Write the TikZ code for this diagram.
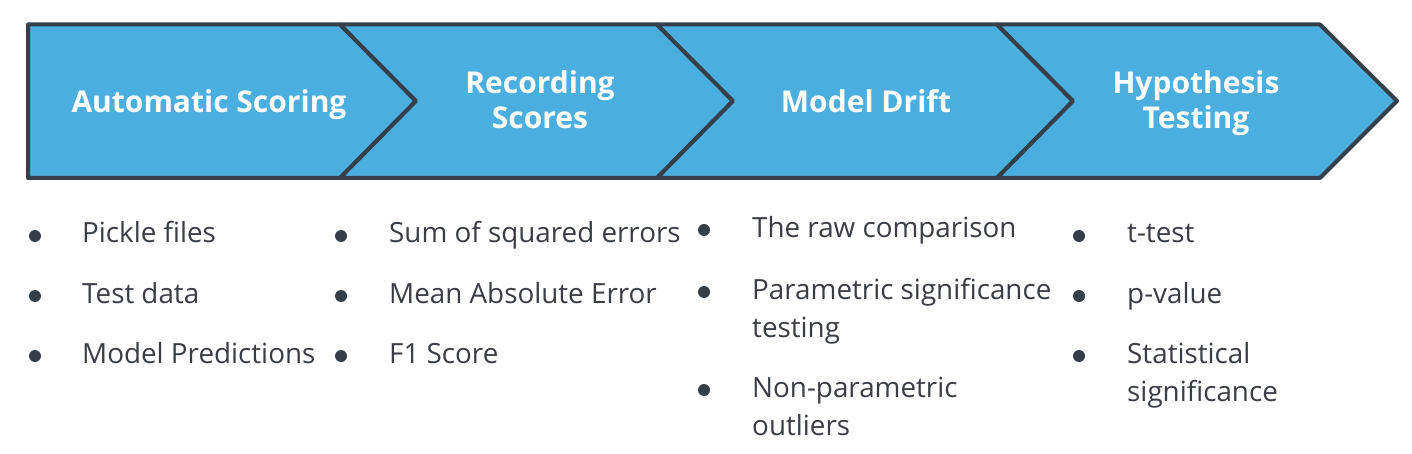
\documentclass[tikz,border=0pt]{standalone}
\usepackage{fontspec}
\setmainfont{Open Sans}
\usetikzlibrary{positioning}
\definecolor{stageblue}{RGB}{74,175,223}
\definecolor{edgegray}{RGB}{54,63,73}
\definecolor{textgray}{RGB}{58,62,68}

\begin{document}
\begin{tikzpicture}[x=1pt,y=-1pt,
    stage/.style={fill=stageblue,draw=edgegray,line width=4pt,line join=round},
    stagetitle/.style={anchor=base,text=white,inner sep=0pt,align=center,
        font=\bfseries\fontsize{30}{35}\selectfont},
    itemtext/.style={anchor=base west,text=textgray,inner sep=0pt,align=left,
        font=\fontsize{27.8}{38}\selectfont}]
    \useasboundingbox (0,0) rectangle (1412,454);
    % Coordinates
    \coordinate (T0) at (28,24.5);
    \coordinate (B0) at (28,178);
    \coordinate (T1) at (340,24.5);
    \coordinate (B1) at (340,178);
    \coordinate (P1) at (416,101);
    \coordinate (T2) at (657,24.5);
    \coordinate (B2) at (657,178);
    \coordinate (P2) at (733,101);
    \coordinate (T3) at (997,24.5);
    \coordinate (B3) at (997,178);
    \coordinate (P3) at (1073,101);
    \coordinate (T4) at (1320,24.5);
    \coordinate (B4) at (1320,178);
    \coordinate (P4) at (1397,101);
    % Chevrons
    \filldraw[stage] (T0)--(T1)--(P1)--(B1)--(B0)--cycle;
    \filldraw[stage] (T1)--(T2)--(P2)--(B2)--(B1)--(P1)--cycle;
    \filldraw[stage] (T2)--(T3)--(P3)--(B3)--(B2)--(P2)--cycle;
    \filldraw[stage] (T3)--(T4)--(P4)--(B4)--(B3)--(P3)--cycle;
    % Titles (base = last line)
    \node[stagetitle] (scoring) at (209,113) {Automatic Scoring};
    \node[stagetitle] (recording) at (540,129) {Recording\\Scores};
    \node[stagetitle] (drift) at (866,113) {Model Drift};
    \node[stagetitle] (hypothesis) at (1196,129) {Hypothesis\\Testing};
    % Lists
    \node[itemtext] (pickle) at (82,243) {Pickle files};
    \node[itemtext] (testdata) at (82,303) {Test data};
    \node[itemtext] (predictions) at (82,363) {Model Predictions};
    \node[itemtext] (sse) at (389,243) {Sum of squared errors};
    \node[itemtext] (mae) at (389,303) {Mean Absolute Error};
    \node[itemtext] (fone) at (389,363) {F1 Score};
    \node[itemtext] (raw) at (752,237) {The raw comparison};
    \node[itemtext] (parametric) at (752,337) {Parametric significance\\testing};
    \node[itemtext] (nonparametric) at (752,435) {Non-parametric\\outliers};
    \node[itemtext] (ttest) at (1127,243) {t-test};
    \node[itemtext] (pvalue) at (1127,303) {p-value};
    \node[itemtext] (statistical) at (1127,401) {Statistical\\significance};
    % Bullets
    \foreach \X/\Y in {35/236, 35/296, 35/356, 341/236, 341/296, 341/356,
        704/230, 704/292, 704/390, 1079/236, 1079/296, 1079/356} {
        \fill[edgegray] (\X,\Y) circle (6pt);
    }
\end{tikzpicture}
\end{document}
